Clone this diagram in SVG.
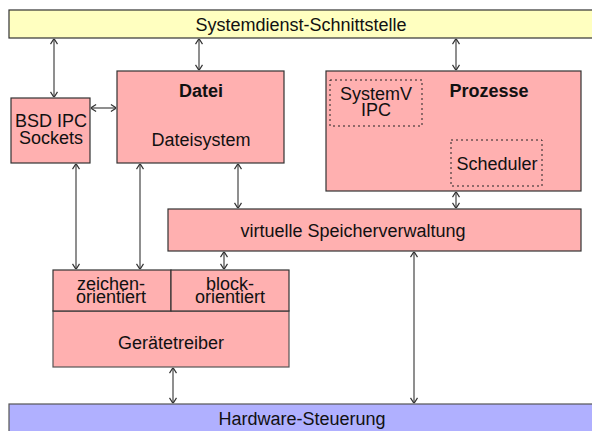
<svg xmlns="http://www.w3.org/2000/svg" width="592" height="431" viewBox="0 0 592 431">
<style>
text{font-family:"Liberation Sans",Arial,sans-serif;font-size:18px;fill:#111;text-anchor:middle}
.b{font-weight:bold}
.box{fill:#ffb0b0;stroke:#333;stroke-width:1.2}
.dash{fill:none;stroke:#222;stroke-width:1;stroke-dasharray:2,3}
.con{stroke:#6a6a6a;stroke-width:1.5;fill:none;marker-start:url(#ah);marker-end:url(#ah)}
</style>
<defs>
<marker id="ah" viewBox="0 0 6 8" refX="6" refY="4" markerWidth="6" markerHeight="8" markerUnits="userSpaceOnUse" orient="auto-start-reverse">
<path d="M0.5,0.5 L6,4 L0.5,7.5" fill="none" stroke="#333" stroke-width="1.2"/>
</marker>
</defs>
<g id="top">
<rect x="9" y="10" width="600" height="28" fill="#ffffc0" stroke="#333" stroke-width="1.2"/>
<text x="301" y="31">Systemdienst-Schnittstelle</text>
</g>
<g id="bsd">
<rect class="box" x="11" y="98" width="79" height="65"/>
<text x="51" y="127">BSD IPC<tspan x="51" y="144">Sockets</tspan></text>
</g>
<g id="datei">
<rect class="box" x="117" y="71" width="167" height="92"/>
<text class="b" x="201" y="97">Datei</text>
<text x="201" y="146">Dateisystem</text>
</g>
<g id="prozesse">
<rect class="box" x="326" y="71" width="255" height="120"/>
<text class="b" x="489" y="97">Prozesse</text>
<rect class="dash" x="330" y="80" width="92" height="46"/>
<text x="376" y="100">SystemV<tspan x="376" y="116">IPC</tspan></text>
<rect class="dash" x="451" y="140" width="91" height="46"/>
<text x="497" y="170">Scheduler</text>
</g>
<g id="vsv">
<rect class="box" x="168" y="209" width="413" height="42"/>
<text x="353" y="237">virtuelle Speicherverwaltung</text>
</g>
<g id="geraete">
<rect x="53" y="311" width="236" height="56" fill="#ffb0b0" stroke="#555" stroke-width="1.2"/>
<rect class="box" x="53" y="270" width="118" height="41" stroke="#111"/>
<rect class="box" x="171" y="270" width="118" height="41" stroke="#111"/>
<text x="111" y="290">zeichen-<tspan x="111" y="303">orientiert</tspan></text>
<text x="230" y="290">block-<tspan x="230" y="303">orientiert</tspan></text>
<text x="171" y="349">Gerätetreiber</text>
</g>
<g id="hw">
<rect x="9" y="404" width="600" height="40" fill="#b0b0ff" stroke="#555" stroke-width="1.2"/>
<text x="302" y="425">Hardware-Steuerung</text>
</g>
<g id="connectors">
<line class="con" x1="54" y1="38.6" x2="54" y2="97.4"/>
<line class="con" x1="199" y1="38.6" x2="199" y2="70.4"/>
<line class="con" x1="456" y1="38.6" x2="456" y2="70.4"/>
<line class="con" x1="90.6" y1="108" x2="116.4" y2="108"/>
<line class="con" x1="456" y1="191.6" x2="456" y2="208.4"/>
<line class="con" x1="238" y1="163.6" x2="238" y2="208.4"/>
<line class="con" x1="76" y1="163.6" x2="76" y2="269.4"/>
<line class="con" x1="140" y1="163.6" x2="140" y2="269.4"/>
<line class="con" x1="224" y1="251.6" x2="224" y2="269.4"/>
<line class="con" x1="173" y1="367.6" x2="173" y2="403.4"/>
<line class="con" x1="414" y1="251.6" x2="414" y2="403.4"/>
</g>
</svg>
